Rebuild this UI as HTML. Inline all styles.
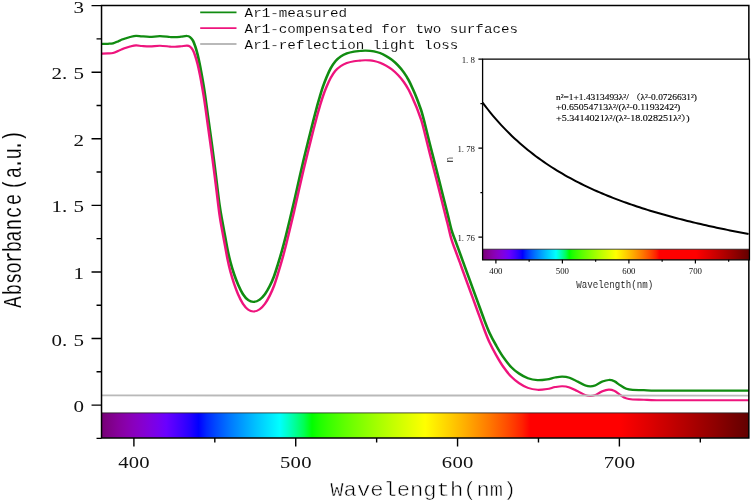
<!DOCTYPE html><html><head><meta charset="utf-8"><title>Absorbance</title>
<style>html,body{margin:0;padding:0;background:#fff}svg{display:block}.m{font-family:"Liberation Mono",monospace}.s{font-family:"Liberation Serif","Noto Serif CJK SC",serif;fill:#111}</style></head><body>
<svg width="751" height="502" viewBox="0 0 751 502">
<defs><linearGradient id="sp" x1="0" y1="0" x2="1" y2="0"><stop offset="0.0000" stop-color="#760076"/><stop offset="0.0125" stop-color="#7f0088"/><stop offset="0.0250" stop-color="#86009b"/><stop offset="0.0375" stop-color="#8900ac"/><stop offset="0.0500" stop-color="#8900be"/><stop offset="0.0625" stop-color="#8600ce"/><stop offset="0.0750" stop-color="#8000df"/><stop offset="0.0875" stop-color="#7700ef"/><stop offset="0.1000" stop-color="#6a00ff"/><stop offset="0.1125" stop-color="#5400ff"/><stop offset="0.1250" stop-color="#3d00ff"/><stop offset="0.1375" stop-color="#2300ff"/><stop offset="0.1500" stop-color="#0000ff"/><stop offset="0.1625" stop-color="#0028ff"/><stop offset="0.1750" stop-color="#0046ff"/><stop offset="0.1875" stop-color="#0061ff"/><stop offset="0.2000" stop-color="#007bff"/><stop offset="0.2125" stop-color="#0092ff"/><stop offset="0.2250" stop-color="#00a9ff"/><stop offset="0.2375" stop-color="#00c0ff"/><stop offset="0.2500" stop-color="#00d5ff"/><stop offset="0.2625" stop-color="#00eaff"/><stop offset="0.2750" stop-color="#00ffff"/><stop offset="0.2875" stop-color="#00ffcb"/><stop offset="0.3000" stop-color="#00ff92"/><stop offset="0.3125" stop-color="#00ff54"/><stop offset="0.3250" stop-color="#00ff00"/><stop offset="0.3375" stop-color="#1fff00"/><stop offset="0.3500" stop-color="#36ff00"/><stop offset="0.3625" stop-color="#4aff00"/><stop offset="0.3750" stop-color="#5eff00"/><stop offset="0.3875" stop-color="#70ff00"/><stop offset="0.4000" stop-color="#81ff00"/><stop offset="0.4125" stop-color="#92ff00"/><stop offset="0.4250" stop-color="#a3ff00"/><stop offset="0.4375" stop-color="#b3ff00"/><stop offset="0.4500" stop-color="#c3ff00"/><stop offset="0.4625" stop-color="#d2ff00"/><stop offset="0.4750" stop-color="#e1ff00"/><stop offset="0.4875" stop-color="#f0ff00"/><stop offset="0.5000" stop-color="#ffff00"/><stop offset="0.5125" stop-color="#ffef00"/><stop offset="0.5250" stop-color="#ffdf00"/><stop offset="0.5375" stop-color="#ffcf00"/><stop offset="0.5500" stop-color="#ffbe00"/><stop offset="0.5625" stop-color="#ffad00"/><stop offset="0.5750" stop-color="#ff9b00"/><stop offset="0.5875" stop-color="#ff8900"/><stop offset="0.6000" stop-color="#ff7700"/><stop offset="0.6125" stop-color="#ff6300"/><stop offset="0.6250" stop-color="#ff4f00"/><stop offset="0.6375" stop-color="#ff3900"/><stop offset="0.6500" stop-color="#ff2100"/><stop offset="0.6625" stop-color="#ff0000"/><stop offset="0.6750" stop-color="#ff0000"/><stop offset="0.6875" stop-color="#ff0000"/><stop offset="0.7000" stop-color="#ff0000"/><stop offset="0.7125" stop-color="#ff0000"/><stop offset="0.7250" stop-color="#ff0000"/><stop offset="0.7375" stop-color="#ff0000"/><stop offset="0.7500" stop-color="#ff0000"/><stop offset="0.7625" stop-color="#ff0000"/><stop offset="0.7750" stop-color="#ff0000"/><stop offset="0.7875" stop-color="#ff0000"/><stop offset="0.8000" stop-color="#ff0000"/><stop offset="0.8125" stop-color="#f60000"/><stop offset="0.8250" stop-color="#ed0000"/><stop offset="0.8375" stop-color="#e40000"/><stop offset="0.8500" stop-color="#db0000"/><stop offset="0.8625" stop-color="#d10000"/><stop offset="0.8750" stop-color="#c80000"/><stop offset="0.8875" stop-color="#be0000"/><stop offset="0.9000" stop-color="#b50000"/><stop offset="0.9125" stop-color="#ab0000"/><stop offset="0.9250" stop-color="#a10000"/><stop offset="0.9375" stop-color="#970000"/><stop offset="0.9500" stop-color="#8d0000"/><stop offset="0.9625" stop-color="#820000"/><stop offset="0.9750" stop-color="#770000"/><stop offset="0.9875" stop-color="#6d0000"/><stop offset="1.0000" stop-color="#610000"/></linearGradient></defs>
<rect width="751" height="502" fill="#fff"/>
<rect x="101.53" y="412.90" width="647.32" height="25.00" fill="url(#sp)"/>
<line x1="101.53" y1="412.90" x2="748.85" y2="412.90" stroke="#222" stroke-width="0.8"/>
<g transform="scale(1.2,1)"><path d="M84.67,44.00C85.56,43.97 88.42,43.92 90.00,43.80C91.58,43.68 92.78,43.70 94.17,43.30C95.56,42.90 97.08,42.02 98.33,41.40C99.58,40.78 100.56,40.13 101.67,39.60C102.78,39.07 103.89,38.63 105.00,38.20C106.11,37.77 106.94,37.40 108.33,37.00C109.72,36.60 111.67,35.90 113.33,35.80C115.00,35.70 116.39,36.23 118.33,36.40C120.28,36.57 122.50,36.83 125.00,36.80C127.50,36.77 130.56,36.17 133.33,36.20C136.11,36.23 139.58,36.83 141.67,37.00C143.75,37.17 144.31,37.25 145.83,37.20C147.36,37.15 149.17,36.90 150.83,36.70C152.50,36.50 154.60,35.95 155.83,36.00C157.07,36.05 157.43,36.25 158.25,37.00C159.07,37.75 160.00,38.92 160.75,40.50C161.50,42.08 162.08,44.10 162.75,46.50C163.42,48.90 164.10,51.72 164.75,54.90C165.40,58.08 166.07,62.02 166.67,65.60C167.26,69.18 167.81,72.83 168.33,76.40C168.86,79.97 169.38,83.57 169.83,87.00C170.29,90.43 170.51,92.17 171.08,97.00C171.65,101.83 172.29,107.67 173.25,116.00C174.21,124.33 175.74,137.17 176.83,147.00C177.93,156.83 178.82,165.33 179.83,175.00C180.85,184.67 182.00,197.17 182.92,205.00C183.83,212.83 184.57,216.83 185.33,222.00C186.10,227.17 186.78,231.33 187.50,236.00C188.22,240.67 188.92,245.67 189.67,250.00C190.42,254.33 191.11,258.02 192.00,262.00C192.89,265.98 193.93,270.12 195.00,273.90C196.07,277.68 197.18,281.33 198.42,284.70C199.65,288.07 201.00,291.52 202.42,294.10C203.83,296.68 205.42,298.90 206.92,300.20C208.42,301.50 209.83,302.00 211.42,301.90C213.00,301.80 214.85,300.90 216.42,299.60C217.99,298.30 219.43,296.38 220.83,294.10C222.24,291.82 223.58,288.87 224.83,285.90C226.08,282.93 227.19,279.95 228.33,276.30C229.47,272.65 230.56,268.30 231.67,264.00C232.78,259.70 233.89,255.25 235.00,250.50C236.11,245.75 237.22,240.75 238.33,235.50C239.44,230.25 240.49,224.92 241.67,219.00C242.85,213.08 244.17,206.50 245.42,200.00C246.67,193.50 247.90,186.67 249.17,180.00C250.43,173.33 251.68,166.67 253.00,160.00C254.32,153.33 255.71,146.67 257.08,140.00C258.46,133.33 260.00,125.87 261.25,120.00C262.50,114.13 263.69,108.73 264.58,104.80C265.47,100.87 265.83,99.40 266.58,96.40C267.33,93.40 268.17,89.98 269.08,86.80C270.00,83.62 271.00,80.38 272.08,77.30C273.17,74.22 274.33,71.00 275.58,68.30C276.83,65.60 278.17,63.08 279.58,61.10C281.00,59.12 282.51,57.68 284.08,56.40C285.65,55.12 287.18,54.20 289.00,53.40C290.82,52.60 293.17,52.00 295.00,51.60C296.83,51.20 298.47,51.17 300.00,51.00C301.53,50.83 302.78,50.63 304.17,50.60C305.56,50.57 307.08,50.67 308.33,50.80C309.58,50.93 310.28,51.02 311.67,51.40C313.06,51.78 315.00,52.33 316.67,53.10C318.33,53.87 320.00,54.87 321.67,56.00C323.33,57.13 325.01,58.35 326.67,59.90C328.32,61.45 329.93,63.20 331.58,65.30C333.24,67.40 335.08,70.00 336.58,72.50C338.08,75.00 339.33,77.52 340.58,80.30C341.83,83.08 343.00,86.32 344.08,89.20C345.17,92.08 346.21,95.00 347.08,97.60C347.96,100.20 348.65,102.57 349.33,104.80C350.01,107.03 350.50,108.38 351.17,111.00C351.83,113.62 352.17,115.00 353.33,120.50C354.50,126.00 356.50,136.08 358.17,144.00C359.83,151.92 361.92,161.33 363.33,168.00C364.75,174.67 365.56,178.67 366.67,184.00C367.78,189.33 368.92,194.83 370.00,200.00C371.08,205.17 372.12,210.00 373.17,215.00C374.21,220.00 375.24,225.83 376.25,230.00C377.26,234.17 378.24,236.67 379.25,240.00C380.26,243.33 381.32,246.67 382.33,250.00C383.35,253.33 383.82,255.00 385.33,260.00C386.85,265.00 389.39,273.33 391.42,280.00C393.44,286.67 395.47,293.33 397.50,300.00C399.53,306.67 401.85,314.53 403.58,320.00C405.32,325.47 406.26,328.53 407.92,332.80C409.57,337.07 411.62,341.60 413.50,345.60C415.38,349.60 417.08,353.22 419.17,356.80C421.25,360.38 423.78,364.32 426.00,367.10C428.22,369.88 430.18,371.63 432.50,373.50C434.82,375.37 437.35,377.18 439.92,378.30C442.49,379.42 445.25,380.02 447.92,380.20C450.58,380.38 453.47,379.85 455.92,379.40C458.36,378.95 460.47,377.97 462.58,377.50C464.69,377.03 466.58,376.55 468.58,376.60C470.58,376.65 472.47,376.98 474.58,377.80C476.69,378.62 479.03,380.22 481.25,381.50C483.47,382.78 486.14,384.68 487.92,385.50C489.69,386.32 490.60,386.40 491.92,386.40C493.24,386.40 494.15,386.30 495.83,385.50C497.51,384.70 500.08,382.52 502.00,381.60C503.92,380.68 505.67,380.05 507.33,380.00C509.00,379.95 510.44,380.43 512.00,381.30C513.56,382.17 515.01,383.95 516.67,385.20C518.32,386.45 520.15,388.02 521.92,388.80C523.68,389.58 524.81,389.68 527.25,389.90C529.69,390.12 533.25,389.98 536.58,390.10C539.92,390.22 539.46,390.52 547.25,390.60C555.04,390.68 570.51,390.60 583.33,390.60C596.15,390.60 617.36,390.60 624.17,390.60" fill="none" stroke="#118c11" stroke-width="2.25" stroke-linejoin="round"/>
<path d="M84.67,53.60C85.56,53.57 88.42,53.52 90.00,53.40C91.58,53.28 92.78,53.30 94.17,52.90C95.56,52.50 97.08,51.62 98.33,51.00C99.58,50.38 100.56,49.73 101.67,49.20C102.78,48.67 103.89,48.23 105.00,47.80C106.11,47.37 106.94,47.00 108.33,46.60C109.72,46.20 111.67,45.50 113.33,45.40C115.00,45.30 116.39,45.83 118.33,46.00C120.28,46.17 122.50,46.43 125.00,46.40C127.50,46.37 130.56,45.77 133.33,45.80C136.11,45.83 139.58,46.43 141.67,46.60C143.75,46.77 144.31,46.85 145.83,46.80C147.36,46.75 149.17,46.50 150.83,46.30C152.50,46.10 154.60,45.55 155.83,45.60C157.07,45.65 157.43,45.85 158.25,46.60C159.07,47.35 160.00,48.52 160.75,50.10C161.50,51.68 162.08,53.70 162.75,56.10C163.42,58.50 164.10,61.32 164.75,64.50C165.40,67.68 166.07,71.62 166.67,75.20C167.26,78.78 167.81,82.43 168.33,86.00C168.86,89.57 169.38,93.17 169.83,96.60C170.29,100.03 170.51,101.77 171.08,106.60C171.65,111.43 172.29,117.27 173.25,125.60C174.21,133.93 175.74,146.77 176.83,156.60C177.93,166.43 178.82,174.93 179.83,184.60C180.85,194.27 182.00,206.77 182.92,214.60C183.83,222.43 184.57,226.43 185.33,231.60C186.10,236.77 186.78,240.93 187.50,245.60C188.22,250.27 188.92,255.27 189.67,259.60C190.42,263.93 191.11,267.62 192.00,271.60C192.89,275.58 193.93,279.72 195.00,283.50C196.07,287.28 197.18,290.93 198.42,294.30C199.65,297.67 201.00,301.12 202.42,303.70C203.83,306.28 205.42,308.50 206.92,309.80C208.42,311.10 209.83,311.60 211.42,311.50C213.00,311.40 214.85,310.50 216.42,309.20C217.99,307.90 219.43,305.98 220.83,303.70C222.24,301.42 223.58,298.47 224.83,295.50C226.08,292.53 227.19,289.55 228.33,285.90C229.47,282.25 230.56,277.90 231.67,273.60C232.78,269.30 233.89,264.85 235.00,260.10C236.11,255.35 237.22,250.35 238.33,245.10C239.44,239.85 240.49,234.52 241.67,228.60C242.85,222.68 244.17,216.10 245.42,209.60C246.67,203.10 247.90,196.27 249.17,189.60C250.43,182.93 251.68,176.27 253.00,169.60C254.32,162.93 255.71,156.27 257.08,149.60C258.46,142.93 260.00,135.47 261.25,129.60C262.50,123.73 263.69,118.33 264.58,114.40C265.47,110.47 265.83,109.00 266.58,106.00C267.33,103.00 268.17,99.58 269.08,96.40C270.00,93.22 271.00,89.98 272.08,86.90C273.17,83.82 274.33,80.60 275.58,77.90C276.83,75.20 278.17,72.68 279.58,70.70C281.00,68.72 282.51,67.28 284.08,66.00C285.65,64.72 287.18,63.80 289.00,63.00C290.82,62.20 293.17,61.60 295.00,61.20C296.83,60.80 298.47,60.77 300.00,60.60C301.53,60.43 302.78,60.23 304.17,60.20C305.56,60.17 307.08,60.27 308.33,60.40C309.58,60.53 310.28,60.62 311.67,61.00C313.06,61.38 315.00,61.93 316.67,62.70C318.33,63.47 320.00,64.47 321.67,65.60C323.33,66.73 325.01,67.95 326.67,69.50C328.32,71.05 329.93,72.80 331.58,74.90C333.24,77.00 335.08,79.60 336.58,82.10C338.08,84.60 339.33,87.12 340.58,89.90C341.83,92.68 343.00,95.92 344.08,98.80C345.17,101.68 346.21,104.60 347.08,107.20C347.96,109.80 348.65,112.17 349.33,114.40C350.01,116.63 350.50,117.98 351.17,120.60C351.83,123.22 352.17,124.60 353.33,130.10C354.50,135.60 356.50,145.68 358.17,153.60C359.83,161.52 361.92,170.93 363.33,177.60C364.75,184.27 365.56,188.27 366.67,193.60C367.78,198.93 368.92,204.43 370.00,209.60C371.08,214.77 372.12,219.60 373.17,224.60C374.21,229.60 375.24,235.43 376.25,239.60C377.26,243.77 378.24,246.27 379.25,249.60C380.26,252.93 381.32,256.27 382.33,259.60C383.35,262.93 383.82,264.60 385.33,269.60C386.85,274.60 389.39,282.93 391.42,289.60C393.44,296.27 395.47,302.93 397.50,309.60C399.53,316.27 401.85,324.13 403.58,329.60C405.32,335.07 406.26,338.13 407.92,342.40C409.57,346.67 411.62,351.20 413.50,355.20C415.38,359.20 417.08,362.82 419.17,366.40C421.25,369.98 423.78,373.92 426.00,376.70C428.22,379.48 430.18,381.23 432.50,383.10C434.82,384.97 437.35,386.78 439.92,387.90C442.49,389.02 445.25,389.62 447.92,389.80C450.58,389.98 453.47,389.45 455.92,389.00C458.36,388.55 460.47,387.57 462.58,387.10C464.69,386.63 466.58,386.15 468.58,386.20C470.58,386.25 472.47,386.58 474.58,387.40C476.69,388.22 479.03,389.82 481.25,391.10C483.47,392.38 486.14,394.28 487.92,395.10C489.69,395.92 490.60,396.00 491.92,396.00C493.24,396.00 494.15,395.90 495.83,395.10C497.51,394.30 500.08,392.12 502.00,391.20C503.92,390.28 505.67,389.65 507.33,389.60C509.00,389.55 510.44,390.03 512.00,390.90C513.56,391.77 515.01,393.55 516.67,394.80C518.32,396.05 520.15,397.62 521.92,398.40C523.68,399.18 524.81,399.28 527.25,399.50C529.69,399.72 533.25,399.58 536.58,399.70C539.92,399.82 539.46,400.12 547.25,400.20C555.04,400.28 570.51,400.20 583.33,400.20C596.15,400.20 617.36,400.20 624.17,400.20" fill="none" stroke="#ee147d" stroke-width="2.1" stroke-linejoin="round"/></g>
<path d="M101.53,395.40 L748.85,395.60" fill="none" stroke="#b9b9b9" stroke-width="1.9"/>
<path d="M101.53,5.59 H748.85 V437.90 H101.53 Z" fill="none" stroke="#000" stroke-width="1.5"/>
<path d="M101.53,438.39 h-5.0M101.53,405.10 h-10.0M101.53,371.81 h-5.0M101.53,338.52 h-10.0M101.53,305.22 h-5.0M101.53,271.93 h-10.0M101.53,238.64 h-5.0M101.53,205.35 h-10.0M101.53,172.05 h-5.0M101.53,138.76 h-10.0M101.53,105.47 h-5.0M101.53,72.18 h-10.0M101.53,38.88 h-5.0M101.53,5.59 h-10.0" stroke="#000" stroke-width="1.4" fill="none"/>
<path d="M133.90,437.90 v8.7M214.81,437.90 v4.5M295.73,437.90 v8.7M376.64,437.90 v4.5M457.56,437.90 v8.7M538.48,437.90 v4.5M619.39,437.90 v8.7M700.30,437.90 v4.5" stroke="#000" stroke-width="1.4" fill="none"/>
<text class="s" font-size="17.5" y="12.59" transform="scale(1.2000,1)" x="61.29">3</text>
<text class="s" font-size="17.5" y="79.18" transform="scale(1.2000,1)" x="42.96 51.73 61.29">2.5</text>
<text class="s" font-size="17.5" y="145.76" transform="scale(1.2000,1)" x="61.29">2</text>
<text class="s" font-size="17.5" y="212.35" transform="scale(1.2000,1)" x="42.96 51.73 61.29">1.5</text>
<text class="s" font-size="17.5" y="278.93" transform="scale(1.2000,1)" x="61.29">1</text>
<text class="s" font-size="17.5" y="345.52" transform="scale(1.2000,1)" x="42.96 51.73 61.29">0.5</text>
<text class="s" font-size="17.5" y="412.10" transform="scale(1.2000,1)" x="61.29">0</text>
<text class="s" font-size="17.5" y="467.70" transform="scale(1.1800,1)" x="100.12 109.10 118.08">400</text>
<text class="s" font-size="17.5" y="467.70" transform="scale(1.1800,1)" x="237.26 246.24 255.23">500</text>
<text class="s" font-size="17.5" y="467.70" transform="scale(1.1800,1)" x="374.40 383.39 392.37">600</text>
<text class="s" font-size="17.5" y="467.70" transform="scale(1.1800,1)" x="511.55 520.53 529.51">700</text>
<text class="m" font-size="20.5" y="496.20" transform="scale(1.0813,1)" x="305.47" fill="#000" stroke="#fff" stroke-width="0.5">Wavelength(nm)</text>
<text class="m" font-size="25" y="0.00" transform="translate(20.9,0) rotate(-90) scale(0.7600,1)" x="-405.00 -388.42 -373.68 -359.87 -346.18 -331.84 -318.03 -302.89 -286.84 -270.13 -250.13 -234.47 -222.63 -210.00 -199.08 -186.45" fill="#000" stroke="#fff" stroke-width="0.15">Absorbance(a.u.)</text>
<line x1="200.2" y1="12.40" x2="236.5" y2="12.40" stroke="#118c11" stroke-width="1.8"/>
<text class="m" font-size="13.05" y="17.00" transform="scale(1.0920,1)" x="224.00" fill="#000" stroke="#fff" stroke-width="0.12">Ar1-measured</text>
<line x1="200.2" y1="28.20" x2="236.5" y2="28.20" stroke="#ee147d" stroke-width="1.8"/>
<text class="m" font-size="13.05" y="32.80" transform="scale(1.0920,1)" x="224.00" fill="#000" stroke="#fff" stroke-width="0.12">Ar1-compensated for two surfaces</text>
<line x1="200.2" y1="44.00" x2="236.5" y2="44.00" stroke="#b9b9b9" stroke-width="1.8"/>
<text class="m" font-size="13.05" y="48.60" transform="scale(1.0920,1)" x="224.00" fill="#000" stroke="#fff" stroke-width="0.12">Ar1-reflection light loss</text>
<rect x="482.60" y="59.20" width="266.85" height="200.60" fill="#fff"/>
<rect x="482.60" y="249.20" width="266.85" height="10.60" fill="url(#sp)"/>
<line x1="482.60" y1="249.20" x2="749.45" y2="249.20" stroke="#222" stroke-width="0.8"/>
<path d="M482.60,102.55 L485.26,106.09 L487.92,109.51 L490.58,112.83 L493.24,116.04 L495.90,119.15 L498.56,122.16 L501.22,125.08 L503.88,127.91 L506.54,130.66 L509.20,133.32 L511.86,135.91 L514.52,138.42 L517.18,140.86 L519.84,143.24 L522.50,145.54 L525.16,147.79 L527.82,149.97 L530.48,152.09 L533.14,154.16 L535.80,156.18 L538.46,158.14 L541.12,160.05 L543.78,161.91 L546.44,163.73 L549.10,165.50 L551.76,167.23 L554.42,168.91 L557.08,170.56 L559.74,172.16 L562.40,173.73 L565.06,175.27 L567.72,176.76 L570.38,178.23 L573.04,179.66 L575.70,181.06 L578.36,182.43 L581.02,183.76 L583.68,185.08 L586.34,186.36 L589.00,187.61 L591.66,188.84 L594.32,190.05 L596.98,191.23 L599.64,192.38 L602.30,193.52 L604.96,194.63 L607.62,195.72 L610.28,196.79 L612.94,197.83 L615.60,198.86 L618.26,199.87 L620.92,200.86 L623.58,201.84 L626.24,202.79 L628.90,203.73 L631.56,204.65 L634.22,205.56 L636.88,206.45 L639.54,207.32 L642.20,208.18 L644.86,209.03 L647.52,209.86 L650.18,210.68 L652.84,211.49 L655.50,212.28 L658.16,213.06 L660.82,213.83 L663.48,214.58 L666.14,215.33 L668.80,216.06 L671.46,216.78 L674.12,217.50 L676.78,218.20 L679.44,218.89 L682.10,219.57 L684.76,220.25 L687.42,220.91 L690.08,221.56 L692.74,222.21 L695.40,222.85 L698.06,223.47 L700.72,224.09 L703.38,224.71 L706.04,225.31 L708.70,225.91 L711.36,226.50 L714.02,227.08 L716.68,227.66 L719.34,228.22 L722.00,228.79 L724.66,229.34 L727.32,229.89 L729.98,230.43 L732.64,230.97 L735.30,231.50 L737.96,232.02 L740.62,232.54 L743.28,233.06 L745.94,233.57 L748.60,234.07" fill="none" stroke="#000" stroke-width="2"/>
<path d="M482.60,59.20 H749.45 V259.80 H482.60 Z" fill="none" stroke="#000" stroke-width="1.3"/>
<path d="M482.60,237.10 h-4.2M482.60,192.62 h-2.2M482.60,148.15 h-4.2M482.60,103.67 h-2.2M482.60,59.20 h-4.2M495.90,259.80 v3.6M529.15,259.80 v2.0M562.40,259.80 v3.6M595.65,259.80 v2.0M628.90,259.80 v3.6M662.15,259.80 v2.0M695.40,259.80 v3.6M728.65,259.80 v2.0" stroke="#000" stroke-width="1.2" fill="none"/>
<text class="s" font-size="9.2" y="63.10" transform="scale(0.9600,1)" x="481.03 485.53 490.20">1.8</text>
<text class="s" font-size="9.2" y="152.05" transform="scale(0.9600,1)" x="476.45 480.95 485.62 490.20">1.78</text>
<text class="s" font-size="9.2" y="241.00" transform="scale(0.9600,1)" x="476.45 480.95 485.62 490.20">1.76</text>
<text class="s" font-size="9.2" y="274.50" transform="scale(0.9600,1)" x="509.68 514.26 518.85">400</text>
<text class="s" font-size="9.2" y="274.50" transform="scale(0.9600,1)" x="578.95 583.53 588.12">500</text>
<text class="s" font-size="9.2" y="274.50" transform="scale(0.9600,1)" x="648.22 652.80 657.39">600</text>
<text class="s" font-size="9.2" y="274.50" transform="scale(0.9600,1)" x="717.49 722.07 726.66">700</text>
<text class="m" font-size="10.6" y="288.30" transform="scale(0.8648,1)" x="666.41" fill="#000" stroke="#fff" stroke-width="0.1">Wavelength(nm)</text>
<text class="m" font-size="10.6" y="0.00" transform="translate(453.2,0) rotate(-90) scale(0.8648,1)" x="-187.91" fill="#000" stroke="#fff" stroke-width="0.1">n</text>
<text class="s" style="fill:#000" stroke="#000" stroke-width="0.12" font-size="8.6" x="556" y="99.50" textLength="141" lengthAdjust="spacingAndGlyphs">n²=1+1.4313493λ²/ （λ²-0.0726631²)</text>
<text class="s" style="fill:#000" stroke="#000" stroke-width="0.12" font-size="8.6" x="556" y="110.35" textLength="124.4" lengthAdjust="spacingAndGlyphs">+0.65054713λ²/(λ²-0.1193242²)</text>
<text class="s" style="fill:#000" stroke="#000" stroke-width="0.12" font-size="8.6" x="556" y="121.20" textLength="133.5" lengthAdjust="spacingAndGlyphs">+5.3414021λ²/(λ²-18.028251λ²）)</text>
</svg></body></html>
